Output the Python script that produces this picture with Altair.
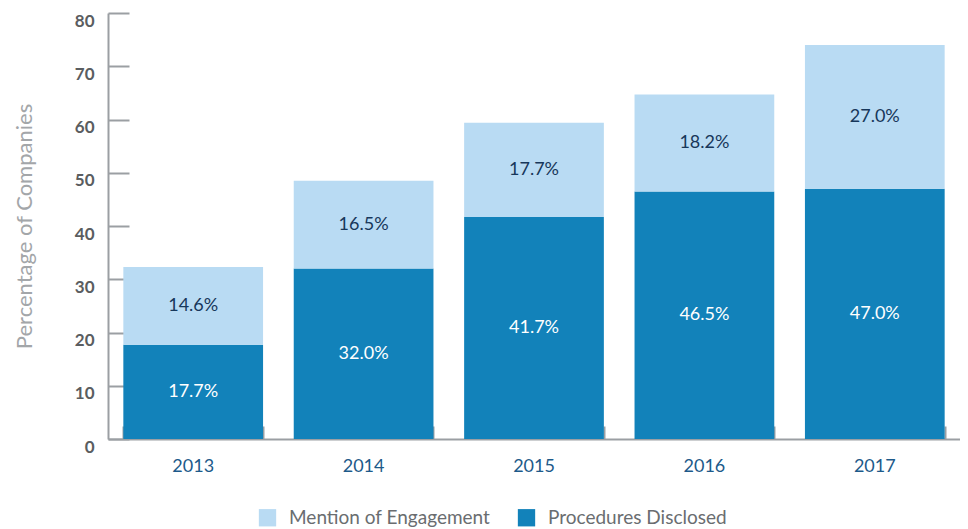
import altair as alt
import pandas as pd

years = ["2013", "2014", "2015", "2016", "2017"]
procedures = [17.7, 32.0, 41.7, 46.5, 47.0]
engagement = [14.6, 16.5, 17.7, 18.2, 27.0]
series = ["Mention of Engagement", "Procedures Disclosed"]
colors = ["#b9dbf3", "#1282ba"]
text_colors = ["#17375a", "#ffffff"]

rows = []
for i, y in enumerate(years):
    rows.append({"year": y, "series": series[1], "value": procedures[i], "order": 0})
    rows.append({"year": y, "series": series[0], "value": engagement[i], "order": 1})
df = pd.DataFrame(rows)

W, H = 852, 426
FONT = "Lato"
AXIS_GRAY = "#9b9fa3"

x_scale = alt.Scale(paddingInner=0.18, paddingOuter=0.09)
y_scale = alt.Scale(domain=[0, 80])

base = alt.Chart(df).transform_stack(
    stack="value", groupby=["year"], as_=["y0", "y1"],
    sort=[alt.SortField("order", order="ascending")]
).transform_calculate(
    mid="(datum.y0 + datum.y1) / 2",
    label="format(datum.value, '.1f') + '%'"
)

bars = base.mark_bar().encode(
    x=alt.X("year:N", scale=x_scale, sort=years, title=None,
            axis=alt.Axis(orient="bottom", ticks=False, tickSize=0, domain=True,
                          domainColor=AXIS_GRAY, domainWidth=2,
                          labelAngle=0, labelFont=FONT, labelFontSize=18,
                          labelColor="#1d5a8a", labelPadding=18, grid=False)),
    y=alt.Y("y0:Q", scale=y_scale, title="Percentage of Companies",
            axis=alt.Axis(orient="left", values=[0, 10, 20, 30, 40, 50, 60, 70, 80],
                          ticks=False, tickSize=0, domain=True,
                          domainColor=AXIS_GRAY, domainWidth=2, grid=False,
                          labelFont=FONT, labelFontSize=17, labelFontWeight="bold",
                          labelColor="#5a5d60", labelPadding=14, labelOffset=8,
                          titleFont=FONT, titleFontSize=22, titleFontWeight="normal",
                          titleColor="#a3a6a9", titleX=-84, titleY=213,
                          titleAngle=-90, titleBaseline="middle", titleAlign="center")),
    y2="y1:Q",
    color=alt.Color("series:N", scale=alt.Scale(domain=series, range=colors),
                    legend=alt.Legend(title=None, orient="none", direction="horizontal",
                                      legendX=150, legendY=495,
                                      symbolType="square", symbolSize=300,
                                      symbolStrokeWidth=0, symbolOpacity=1,
                                      labelFont=FONT, labelFontSize=19, labelLimit=400,
                                      labelColor="#6a6d70", labelOffset=12,
                                      columnPadding=26)),
)

texts = base.mark_text(font=FONT, fontSize=18).encode(
    x=alt.X("year:N", scale=x_scale, sort=years, title=None,
            axis=alt.Axis(orient="top", offset=-H, labels=False, domain=False,
                          ticks=True, tickBand="extent", tickSize=13,
                          tickColor=AXIS_GRAY, tickWidth=2, grid=False)),
    y=alt.Y("mid:Q", scale=y_scale, title=None,
            axis=alt.Axis(orient="right", offset=-W, labels=False, domain=False,
                          values=[0, 10, 20, 30, 40, 50, 60, 70, 80],
                          ticks=True, tickSize=21, tickColor=AXIS_GRAY,
                          tickWidth=2, grid=False)),
    text="label:N",
    color=alt.Color("series:N", scale=alt.Scale(domain=series, range=text_colors),
                    legend=None),
)

chart = alt.layer(bars, texts).resolve_scale(color="independent").resolve_axis(
    x="independent", y="independent"
).properties(
    width=W, height=H,
    autosize=alt.AutoSizeParams(type="none"),
    padding={"left": 100, "top": 5, "right": 0, "bottom": 88},
).configure_view(stroke=None)

chart.save("out.html", embed_options={"renderer": "svg", "actions": False})
